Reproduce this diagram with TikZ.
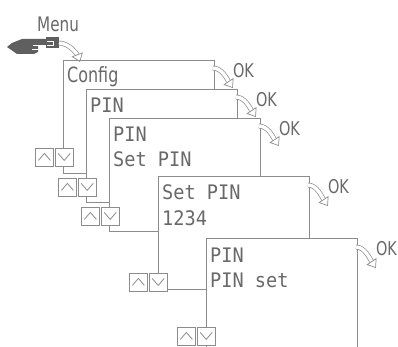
\documentclass[tikz,border=0pt]{standalone}
\usepackage{fontspec}
\usetikzlibrary{arrows.meta}

\newfontfamily\screenfont{DejaVu Sans Mono}[FakeStretch=0.93]
\newfontfamily\labelfont{DejaVu Sans}[FakeStretch=0.76]

\definecolor{linegray}{RGB}{140,140,140}
\definecolor{textgray}{RGB}{105,105,105}
\definecolor{handgray}{RGB}{95,95,95}

\tikzset{
  screen/.style={draw=linegray, fill=white, line width=0.9pt, minimum width=151pt, minimum height=113pt, anchor=north west, inner sep=0pt},
  scrtext/.style={anchor=base west, inner sep=0pt, text=textgray, font=\screenfont\fontsize{20}{24}\selectfont},
  oktext/.style={anchor=west, inner sep=0pt, text=textgray, font=\labelfont\fontsize{19}{22}\selectfont},
  keybox/.style={draw=linegray, fill=white, line width=0.8pt, minimum size=18pt, inner sep=0pt, anchor=north west},
  upkey/.style={keybox, path picture={\draw[linegray, line width=0.8pt] ([shift={(-6pt,-3pt)}]path picture bounding box.center) -- ([shift={(0pt,4pt)}]path picture bounding box.center) -- ([shift={(6pt,-3pt)}]path picture bounding box.center);}},
  downkey/.style={keybox, path picture={\draw[linegray, line width=0.8pt] ([shift={(-6pt,4pt)}]path picture bounding box.center) -- ([shift={(0pt,-3pt)}]path picture bounding box.center) -- ([shift={(6pt,4pt)}]path picture bounding box.center);}},
  okarrow/.style={draw=linegray, line width=0.7pt, double=white, double distance=3.4pt, -{Triangle[open, length=8pt, width=12pt]}}
}

\begin{document}
\begin{tikzpicture}[x=1pt, y=-1pt]

    \useasboundingbox (0,0) rectangle (398,347);
    \clip (0,0) rectangle (398,347);

    % Hand pressing the menu key
    \node[oktext, anchor=base west, font=\labelfont\fontsize{20}{24}\selectfont] (menu) at (37,32) {Menu};
    \fill[handgray] (7,47) -- (12,43) -- (22,39) -- (47,39) -- (47,45) -- (38,45) -- (38,52)
        -- (34,54) -- (17,54) -- cycle;
    \fill[handgray] (46,37) rectangle (59,48);
    \draw[white, line width=0.6pt] (33,45) -- (46,45);
    \draw[white, line width=0.6pt] (32,49.5) -- (38,49.5);
    \draw[white, line width=0.6pt] (47,41) -- (53,41) -- (53,45) -- (47,45);
    \coordinate (handtip) at (59,43);

    % Screen 1
    \node[screen] (cfg) at (63,60) {};
    \node[scrtext, font=\labelfont\fontsize{21}{24}\selectfont] (cfgline) at ([shift={(4pt,-23pt)}]cfg.north west) {Config};
    \node[upkey] (cfgup) at ([shift={(-28pt,-88pt)}]cfg.north west) {};
    \node[downkey] (cfgdn) at ([shift={(1pt,0pt)}]cfgup.north east) {};
    \coordinate (cfgok) at ([shift={(18pt,-28pt)}]cfg.north east);
    \draw[okarrow] ([shift={(-2pt,-8pt)}]cfg.north east) .. controls +(9pt,0pt) and +(-6pt,9pt) .. (cfgok);
    \node[oktext] (cfgoklbl) at ([shift={(18pt,-11pt)}]cfg.north east) {OK};
    \draw[okarrow] (handtip) .. controls +(10pt,0pt) and +(-3pt,8pt) .. ([shift={(17pt,-2pt)}]cfg.north west);

    % Screen 2
    \node[screen] (pin) at (86,89) {};
    \node[scrtext] (pinline) at ([shift={(4pt,-24pt)}]pin.north west) {PIN};
    \node[upkey] (pinup) at ([shift={(-28pt,-89pt)}]pin.north west) {};
    \node[downkey] (pindn) at ([shift={(1pt,0pt)}]pinup.north east) {};
    \coordinate (pinok) at ([shift={(18pt,-28pt)}]pin.north east);
    \draw[okarrow] ([shift={(-2pt,-8pt)}]pin.north east) .. controls +(9pt,0pt) and +(-6pt,9pt) .. (pinok);
    \node[oktext] (pinoklbl) at ([shift={(18pt,-11pt)}]pin.north east) {OK};

    % Screen 3
    \node[screen] (setpin) at (109,118) {};
    \node[scrtext] (setpinone) at ([shift={(4pt,-24pt)}]setpin.north west) {PIN};
    \node[scrtext] (setpintwo) at ([shift={(4pt,-49pt)}]setpin.north west) {Set PIN};
    \node[upkey] (setpinup) at ([shift={(-28pt,-89pt)}]setpin.north west) {};
    \node[downkey] (setpindn) at ([shift={(1pt,0pt)}]setpinup.north east) {};
    \coordinate (setpinok) at ([shift={(18pt,-28pt)}]setpin.north east);
    \draw[okarrow] ([shift={(-2pt,-8pt)}]setpin.north east) .. controls +(9pt,0pt) and +(-6pt,9pt) .. (setpinok);
    \node[oktext] (setpinoklbl) at ([shift={(18pt,-11pt)}]setpin.north east) {OK};

    % Screen 4
    \node[screen] (entry) at (158,176) {};
    \node[scrtext] (entryone) at ([shift={(4pt,-24pt)}]entry.north west) {Set PIN};
    \node[scrtext] (entrytwo) at ([shift={(4pt,-49pt)}]entry.north west) {1234};
    \node[upkey] (entryup) at ([shift={(-29pt,-97pt)}]entry.north west) {};
    \node[downkey] (entrydn) at ([shift={(1pt,0pt)}]entryup.north east) {};
    \coordinate (entryok) at ([shift={(18pt,-30pt)}]entry.north east);
    \draw[okarrow] ([shift={(-2pt,-9pt)}]entry.north east) .. controls +(9pt,0pt) and +(-6pt,9pt) .. (entryok);
    \node[oktext] (entryoklbl) at ([shift={(18pt,-11pt)}]entry.north east) {OK};

    % Screen 5
    \node[screen] (done) at (206,238) {};
    \node[scrtext] (doneone) at ([shift={(4pt,-24pt)}]done.north west) {PIN};
    \node[scrtext] (donetwo) at ([shift={(4pt,-49pt)}]done.north west) {PIN set};
    \node[upkey] (doneup) at ([shift={(-29pt,-89pt)}]done.north west) {};
    \node[downkey] (donedn) at ([shift={(1pt,0pt)}]doneup.north east) {};
    \coordinate (doneok) at ([shift={(18pt,-30pt)}]done.north east);
    \draw[okarrow] ([shift={(-2pt,-9pt)}]done.north east) .. controls +(9pt,0pt) and +(-6pt,9pt) .. (doneok);
    \node[oktext] (doneoklbl) at ([shift={(18pt,-11pt)}]done.north east) {OK};

\end{tikzpicture}
\end{document}
